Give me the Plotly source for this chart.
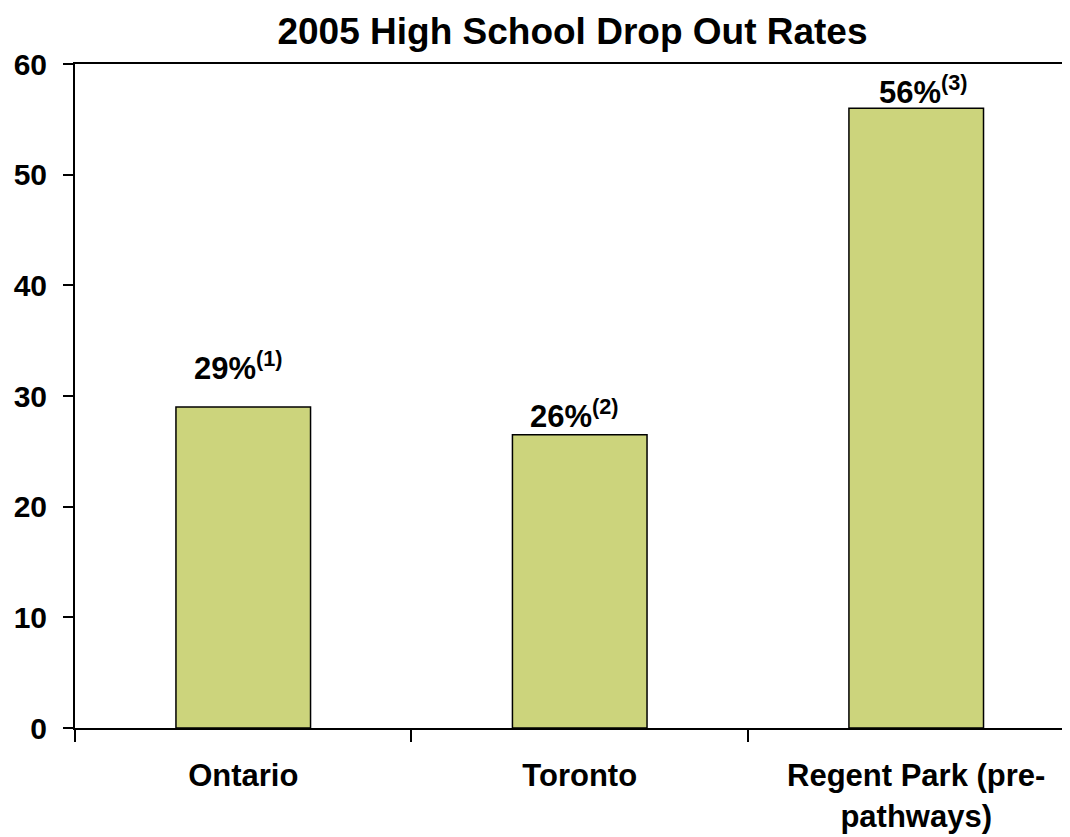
import plotly.graph_objects as go

categories = ["Ontario", "Toronto", "Regent Park (pre-<br>pathways)"]
values = [29, 26.5, 56]
labels = ["29%<sup>(1)</sup>", "26%<sup>(2)</sup>", "56%<sup>(3)</sup>"]
y_ticks = [0, 10, 20, 30, 40, 50, 60]

FONT = "Liberation Sans, Arial, sans-serif"
BAR_COLOR = "rgb(204,212,124)"

# page body has an 8px margin in the browser; size the figure to the visible area
W, H = 1062, 829

fig = go.Figure()
fig.add_trace(go.Bar(
    x=categories, y=values, width=0.4,
    marker=dict(color=BAR_COLOR, line=dict(color="black", width=1.5)),
    hoverinfo="skip",
))

label_yshift = [41, 21, 18]
label_xshift = [-5, -5, 7]
for c, v, t, ys, xs in zip(categories, values, labels, label_yshift, label_xshift):
    fig.add_annotation(x=c, y=v, text=t, showarrow=False, xanchor="center", yanchor="middle",
                       yshift=ys, xshift=xs,
                       font=dict(family=FONT, size=31, color="black", weight="bold"))

fig.update_layout(
    width=W, height=H,
    margin=dict(l=67, r=0, t=56, b=109, autoexpand=False),
    paper_bgcolor="white", plot_bgcolor="white",
    showlegend=False,
    title=dict(text="2005 High School Drop Out Rates", x=0.5, xref="paper", xanchor="center",
               y=1 - 23 / H, yanchor="middle",
               font=dict(family=FONT, size=37, color="black", weight="bold")),
    xaxis=dict(type="category", range=[-0.5, 2.457], showgrid=False, zeroline=False,
               automargin=False,
               showline=True, linecolor="black", linewidth=2, mirror=True,
               ticks="outside", tickson="boundaries", ticklen=12, tickwidth=1.5, tickcolor="black",
               ticklabelstandoff=19,
               tickfont=dict(family=FONT, size=31, color="black", weight="bold")),
    yaxis=dict(range=[0, 60], tickvals=y_ticks, showgrid=False, zeroline=False,
               automargin=False,
               showline=True, linecolor="black", linewidth=2,
               ticks="outside", ticklen=10, tickwidth=1.5, tickcolor="black",
               ticklabelstandoff=10,
               tickfont=dict(family=FONT, size=30, color="black", weight="bold")),
)

fig.write_html("out.html")
